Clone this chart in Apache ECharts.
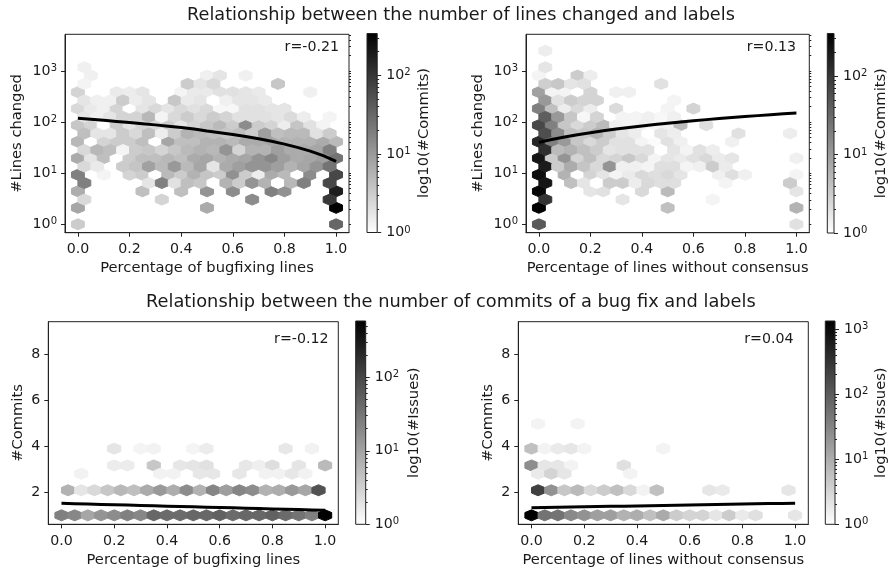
<!DOCTYPE html>
<html><head><meta charset="utf-8">
<script src="https://cdn.jsdelivr.net/npm/echarts@6/dist/echarts.min.js"></script>
<style>html,body{margin:0;padding:0;background:#fff}#c{width:890px;height:572px}</style>
</head><body><div id="c"></div>
<script>
const xEven = [0,0.05,0.1,0.15,0.2,0.25,0.3,0.35,0.4,0.45,0.5,0.55,0.6,0.65,0.7,0.75,0.8,0.85,0.9,0.95,1];
const xOdd = [0.025,0.075,0.125,0.175,0.225,0.275,0.325,0.375,0.425,0.475,0.525,0.575,0.625,0.675,0.725,0.775,0.825,0.875,0.925,0.975];
const lineLevels = [1,1.45,2.1,3.04,4.42,6.41,9.3,13.5,19.6,28.4,41.2,59.8,86.8,126,183,265,384,557,809,1174,1703,2471];
const commitLevels = [1,1.45,1.73,2.09,2.45,2.81,3.17,3.53,3.9,4.26,4.62,4.98];
const fitX = [0,0.05,0.1,0.15,0.2,0.25,0.3,0.35,0.4,0.45,0.5,0.55,0.6,0.65,0.7,0.75,0.8,0.85,0.9,0.95,1];
const fitBugfixLines = [118,113,108,103,98,93,88,83,78,73,67,62,57,52,47,42,37,32,27,22,17];
const fitConsensusLines = [40,45.5,51,56.5,62,67.5,73,78.5,84,89.5,95,100.5,106,111.5,117,122.5,128,133.5,139,144.5,150];
const fitBugfixCommits = [1.52,1.505,1.49,1.475,1.46,1.445,1.43,1.415,1.4,1.385,1.37,1.355,1.34,1.325,1.31,1.295,1.28,1.265,1.25,1.235,1.22];
const fitConsensusCommits = [1.33,1.34,1.35,1.36,1.37,1.38,1.39,1.4,1.41,1.42,1.43,1.44,1.45,1.46,1.47,1.48,1.49,1.5,1.51,1.515,1.52];

const countsBugfixLines = [
{0:3.2,20:33},{},{0:7.7,10:6.8,20:340},{0:2.4,6:2.7,13:13.8,19:95},
{0:6.5,5:4.3,8:4.3,10:11.6,12:13.8,15:18.4,16:12.3,20:170},
{0:18.4,5:1.8,6:18.4,7:2,8:4.3,9:3.6,10:1,11:5.7,12:3.2,13:11.6,14:5.7,15:1,16:5.1,17:18.4,19:67},
[18.4,0,1.3,0,2.7,3.2,1,4.8,3.2,5.7,3.8,3.2,12.3,3.2,1.5,6.8,4.8,1,13.8,1,67],
[2.4,1.6,0,3.2,3.8,8.6,4.8,10.3,4.8,7.7,1.8,6.8,9,11.6,11.6,9,5.7,7.7,11.6,24.7],
[6.8,1.8,4.3,1,3.2,4.3,4.3,5.1,4.3,6.8,7.7,5.7,6.8,7.7,11.6,15.5,9,6.8,7.7,9,24.7],
[2.4,5.1,4.3,1.3,3.2,3.6,2.7,3.6,4.8,5.7,5.1,11.6,2.7,5.7,5.7,9,6.8,6.8,7.7,18.4],
[5.1,1,2.7,3.2,3.2,4.3,1,7.7,4.3,4.3,5.7,5.7,4.8,6.8,6.8,7.7,5.7,5.7,5.7,6.8,4.8],
[4.3,1.8,1.8,3.2,2.4,4.3,1.5,3.2,5.7,4.8,4.3,3.6,4.3,3.2,9,4.3,4.8,4.8,2,3.2],
[3.6,2.7,1,3.2,1.8,2.7,2.4,3.2,1.8,2.7,3.6,4.8,3.2,13.8,3.2,2.7,1.5,3.8,2,1.3,0],
[1.8,1.4,1.8,2.7,2.7,5.1,1.3,2.4,3.2,2.4,3.2,2.7,2,2,2,1.8,2.3,1.5,0,1.3],
{0:2.4,1:1.6,2:1.4,3:2.7,4:1,5:1.8,6:2.4,7:1.8,8:2.4,9:2,10:2.4,11:1.2,12:1.2,13:2,14:2,15:1.8,16:1.8},
{0:1.8,1:1.4,2:1.4,3:3.2,4:1.5,5:1.8,7:3.6,8:1.6,9:1.8,10:1,11:1.4,12:1.8,13:1.8,14:1.6},
{0:2.7,3:1.6,4:1.5,5:1.8,8:1.3,9:1.6,10:1.6,11:2,12:2,13:1.8,14:1.6,18:1.4},
{0:1.3,8:3.2,9:1.8,10:2.4,15:3.6},
{1:1.4,10:1.4,11:1.8,13:1.4},
{0:1.4}
];
const countsConsensusLines = [
{0:44,20:2},{},{0:340,10:4.3,20:5.7},{0:106,6:1.8,13:1.3},
{0:300,4:1.8,5:2,8:2.4,10:4.8,20:1.8},
{0:215,2:4.3,3:1.8,4:1,5:3.2,6:3.2,7:1.5,8:2.4,9:2.1,10:2.1,14:1.3,19:3.2},
{0:254,2:5.7,3:1,4:2.7,5:1.8,6:1.3,7:1.6,8:2.4,9:2.1,10:2.4,11:1.8,14:1.4,15:2.1,16:1.4,20:1.3},
{0:190,1:3.2,2:6.8,3:3.8,4:2.4,5:11.6,6:1.4,7:1.4,8:1.3,9:2.1,10:2.1,11:1.3,12:1.4,13:3.2,14:1.6},
{0:215,1:3.2,2:11.6,3:2.7,4:4.3,5:2.4,6:2.7,7:3.6,8:2.4,9:1.3,10:1.8,11:1.6,12:2,13:2.4,14:1.6,15:1.8,20:1.4},
{0:118,1:4.8,2:5.7,3:4.3,4:3.2,5:1.8,6:2,7:2,8:2,9:1,10:1.8,11:1.3,12:2,13:1.5},
{0:142,1:18.4,2:10.3,3:3.6,4:2.4,5:3.2,6:2,7:2,8:1.3,9:1.1,10:2,11:1.4,15:1.4},
{0:59,1:13.8,2:4.3,3:3.6,4:5.7,5:3.2,6:1.8,7:1.5,8:1,9:1.8,10:1.5,15:2,19:1.5},
{0:67,1:18.4,2:3.6,3:2.4,4:3.2,5:4.8,6:1.4,7:1.3,8:1.4,9:1.2,10:1.4,11:4.8,13:2.1},
{0:40,1:10.3,2:3.6,3:1.2,4:2.7,6:1.3,7:1.3,8:1.4,9:1.2,10:1.4},
{0:18.4,1:4.3,2:1.5,3:2.4,4:1.5,6:2.3,10:1.3,12:2.7},
{0:10.3,1:2,2:3.2,3:2.7,4:2.7,10:1.3},
{0:8.6,1:1.3,2:1.3,3:1,4:2.7,6:1.4,7:1.4},
{0:3,1:3.6,2:1.8,3:2,9:2},
{0:1.3,3:3.2,4:1.5},
{0:1.8},{},{0:1.5}
];
const countsBugfixCommits = [
[24,20,9.3,14.5,17.6,24,20,45,40,40,45,45,52,40,45,45,52,40,33,24,583],
{},{},
[6.8,1.9,2.6,4,5.9,4.9,8.2,12.8,7.7,17.6,6.8,21,11.2,21,17.6,6.8,7.7,12.8,9.3,76],
{},
{1:1.4,7:1.4,8:1.4,10:1.8,11:1.8,13:1.8,15:1.4,16:1.4,17:1.8,18:1.4},
{4:1.6,5:1.6,7:4,9:1.8,10:1.9,11:2.1,14:1.8,15:1.5,16:2.3,18:1.9,20:5.6},
{},
{4:1.9,6:1.3,7:1.4,10:1.3,11:1.6,17:1.8,19:1.4}
];
const countsConsensusCommits = [
{0:1340,1:52,2:52,3:28,4:22,5:15,6:15,7:8.7,8:10,9:6,10:11,11:4.2,12:3.4,13:3.4,14:2,15:4.2,16:1.8,17:2.4,20:2},
{},{},
{0:220,1:22,2:4.9,3:7,4:2.9,5:4.2,6:6,7:2.9,8:1.4,9:6,13:2,14:1.8,19:2},
{},
{0:1.8,1:3.4,2:2,7:1.4},
{0:25,1:2,2:2,3:1.4,7:2.4},
{},
{0:6,1:1.4,2:1.8,3:2,4:1.4,10:1.4},
{},{},
{0:1.4,3:1.4}
];
const xTicks = [0,0.2,0.4,0.6,0.8,1];
const linesTicks = [1,10,100,1000];
const commitsTicks = [2,4,6,8];
const pow = v => '{b|10}{s|' + Math.round(Math.log10(v)) + '}';
const minorSteps = [1,2,3,4,5,6,7,8,9,10,20,30,40,50,60,70,80,90,100,200,300,400,500,600,700,800,900,1000,2000,3000,4000,5000];
const minorLog = (lo, hi) => minorSteps.filter(v => v >= lo && v <= hi);

const FONT = '"DejaVu Sans"';
const TICK = 14.2, NAME = 14.7;
const panels = [
 {box:[65,34.3,284,198.4], cb:[367,33.5,10.2,199], xName:'Percentage of bugfixing lines', yName:'#Lines changed', cbName:'log10(#Commits)', counts:countsBugfixLines, levels:lineLevels, fit:fitBugfixLines, log:true, yr:[0.685,5200], max:340, r:'r=-0.21', rx:339, ry:48.5, cbTicks:[1,10,100], cbGap:39},
 {box:[526,34.3,283.3,198.4], cb:[827.3,33.5,10.4,199.5], xName:'Percentage of lines without consensus', yName:'#Lines changed', cbName:'log10(#Commits)', counts:countsConsensusLines, levels:lineLevels, fit:fitConsensusLines, log:true, yr:[0.685,5200], max:350, r:'r=0.13', rx:796, ry:48.5, cbTicks:[1,10,100], cbGap:40},
 {box:[48.3,321.7,290,202.6], cb:[355.7,321,10,203.3], xName:'Percentage of bugfixing lines', yName:'#Commits', cbName:'log10(#Issues)', counts:countsBugfixCommits, levels:commitLevels, fit:fitBugfixCommits, log:false, yr:[0.61,9.42], max:583, r:'r=-0.12', rx:328.5, ry:340, cbTicks:[1,10,100], cbGap:41},
 {box:[518.3,321.7,290,202.6], cb:[825.3,321,10.4,203.3], xName:'Percentage of lines without consensus', yName:'#Commits', cbName:'log10(#Issues)', counts:countsConsensusCommits, levels:commitLevels, fit:fitConsensusCommits, log:false, yr:[0.61,9.42], max:1340, r:'r=0.04', rx:793.5, ry:340, cbTicks:[1,10,100,1000], cbGap:39}
];

const grids=[], xAxes=[], yAxes=[], series=[], graphics=[];
const AXC = '#222';
const lineOn = {show:true,onZero:false,lineStyle:{color:AXC,width:1}};
const textStyle = size => ({fontFamily:FONT,fontSize:size,color:'#1a1a1a'});
const powRich = {b:{fontFamily:FONT,fontSize:TICK,color:'#1a1a1a'},s:{fontFamily:FONT,fontSize:10,color:'#1a1a1a',verticalAlign:'top',padding:[0,0,5,0]}};

graphics.push({type:'text',left:187,top:6,style:{text:'Relationship between the number of lines changed and labels',font:'17.7px '+FONT,fill:'#1a1a1a'}});
graphics.push({type:'text',left:146,top:293,style:{text:'Relationship between the number of commits of a bug fix and labels',font:'17.8px '+FONT,fill:'#1a1a1a'}});

panels.forEach(p=>{
  const g = grids.length;
  grids.push({left:p.box[0],top:p.box[1],width:p.box[2],height:p.box[3],show:true,borderColor:AXC,borderWidth:1,backgroundColor:'#fff'});
  const xi = xAxes.length;
  xAxes.push({type:'value',gridIndex:g,min:-0.05,max:1.05,name:p.xName,nameLocation:'middle',nameGap:28,nameTextStyle:textStyle(NAME),
    axisLine:lineOn,splitLine:{show:false},
    axisTick:{show:true,length:4,customValues:xTicks,lineStyle:{color:AXC,width:1}},
    axisLabel:{...textStyle(TICK),margin:10,customValues:xTicks,formatter:v=>Number(v).toFixed(1)}});
  const yi = yAxes.length;
  const yTicks = p.log ? linesTicks : commitsTicks;
  yAxes.push({type:p.log?'log':'value',logBase:10,gridIndex:g,min:p.yr[0],max:p.yr[1],name:p.yName,nameLocation:'middle',nameGap:p.log?40:23,nameTextStyle:textStyle(NAME),
    axisLine:lineOn,splitLine:{show:false},
    axisTick:{show:true,length:4,customValues:yTicks,lineStyle:{color:AXC,width:1}},
    axisLabel:{...textStyle(TICK),margin:8,customValues:yTicks,rich:powRich,formatter:v=>p.log?pow(v):String(v)}});
  if(p.log){
    yAxes.push({type:'log',logBase:10,gridIndex:g,min:p.yr[0],max:p.yr[1],axisLine:{show:false,onZero:false},splitLine:{show:false},axisLabel:{show:false},
      axisTick:{show:true,length:2,customValues:minorLog(p.yr[0],p.yr[1]),lineStyle:{color:AXC,width:1}}});
  }
  const cells=[];
  const pushRows = odd => p.counts.forEach((row,k)=>{
    const isOdd = k%2===1;
    if(isOdd!==odd) return;
    const xs = isOdd?xOdd:xEven;
    Object.keys(row).forEach(i=>{ if(row[i]>0) cells.push([xs[+i],p.levels[k],row[i]]); });
  });
  pushRows(false); pushRows(true);
  series.push({type:'custom',xAxisIndex:xi,yAxisIndex:yi,coordinateSystem:'cartesian2d',z:2,clip:true,silent:true,
    data:cells,encode:{x:0,y:1},
    renderItem:(params,api)=>{
      const c=api.coord([api.value(0),api.value(1)]);
      const w=api.coord([api.value(0)+0.025,api.value(1)])[0]-c[0];
      const tip=5.5, side=2.75;
      const f=Math.log(api.value(2))/Math.log(p.max);
      const v=Math.round(255*(1-Math.min(1,f)));
      const col=`rgb(${v},${v},${v})`;
      return {type:'polygon',shape:{points:[[c[0]+w,c[1]-side],[c[0],c[1]-tip],[c[0]-w,c[1]-side],[c[0]-w,c[1]+side],[c[0],c[1]+tip],[c[0]+w,c[1]+side]]},
        style:{fill:col,stroke:col,lineWidth:1}};
    }});
  series.push({type:'line',xAxisIndex:xi,yAxisIndex:yi,z:3,showSymbol:false,silent:true,lineStyle:{color:'#000',width:3},
    data:fitX.map((x,i)=>[x,p.fit[i]])});
  graphics.push({type:'text',right:890-p.rx,top:p.ry-8,style:{text:p.r,font:TICK+'px '+FONT,fill:'#1a1a1a'}});

  // colour bar
  const cg=grids.length;
  grids.push({left:p.cb[0],top:p.cb[1],width:p.cb[2],height:p.cb[3],show:false});
  const cxi=xAxes.length;
  xAxes.push({type:'value',gridIndex:cg,min:0,max:1,show:false});
  const cyi=yAxes.length;
  const cbMinor=minorLog(1,p.max).filter(v=>!p.cbTicks.includes(v));
  yAxes.push({type:'log',logBase:10,gridIndex:cg,position:'right',min:1,max:p.max,name:p.cbName,nameLocation:'middle',nameRotate:90,nameGap:p.cbGap,nameTextStyle:textStyle(NAME),
    axisLine:{show:false,onZero:false},splitLine:{show:false},
    axisTick:{show:true,inside:false,length:4,customValues:p.cbTicks,lineStyle:{color:AXC,width:1}},
    axisLabel:{...textStyle(TICK),margin:9,customValues:p.cbTicks,rich:powRich,formatter:v=>pow(v)}});
  yAxes.push({type:'log',logBase:10,gridIndex:cg,position:'right',min:1,max:p.max,axisLine:{show:false,onZero:false},splitLine:{show:false},axisLabel:{show:false},
    axisTick:{show:true,length:2,customValues:cbMinor,lineStyle:{color:AXC,width:1}}});
  series.push({type:'custom',xAxisIndex:cxi,yAxisIndex:cyi,coordinateSystem:'cartesian2d',silent:true,z:2,
    data:[[0,1,1,p.max]],encode:{x:[0,2],y:[1,3]},
    renderItem:(params,api)=>{
      const a=api.coord([0,1]), b=api.coord([1,p.max]);
      return {type:'rect',shape:{x:a[0],y:b[1],width:b[0]-a[0],height:a[1]-b[1]},
        style:{fill:new echarts.graphic.LinearGradient(0,0,0,1,[{offset:0,color:'#000'},{offset:1,color:'#fff'}]),stroke:AXC,lineWidth:1}};
    }});
});

const chart=echarts.init(document.getElementById('c'),null,{renderer:'canvas'});
chart.setOption({animation:false,backgroundColor:'#fff',grid:grids,xAxis:xAxes,yAxis:yAxes,series,graphic:graphics});
</script></body></html>
